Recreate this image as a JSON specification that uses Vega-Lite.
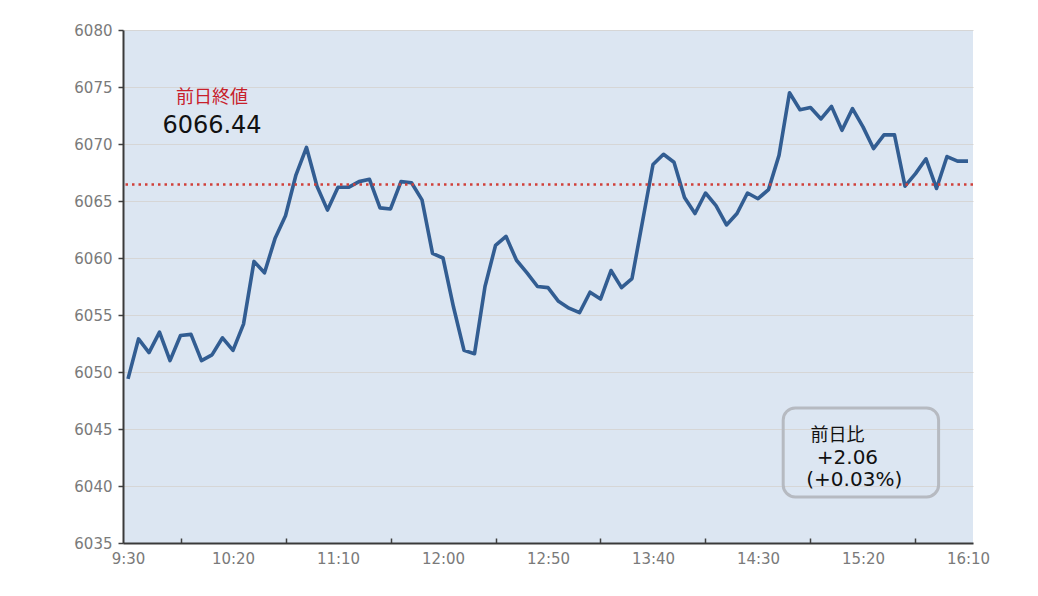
{
  "$schema": "https://vega.github.io/schema/vega-lite/v6.json",
  "width": 850,
  "height": 513,
  "autosize": "none",
  "padding": {"left": 123, "top": 30, "right": 65, "bottom": 53},
  "background": "white",
  "view": {"fill": "#dce6f2", "stroke": null},
  "config": {"font": "DejaVu Sans"},
  "layer": [
    {
      "data": {
        "values": [
          {"t": "09:30", "v": 6049.4}, {"t": "09:35", "v": 6052.9}, {"t": "09:40", "v": 6051.7}, {"t": "09:45", "v": 6053.5},
          {"t": "09:50", "v": 6051.0}, {"t": "09:55", "v": 6053.2}, {"t": "10:00", "v": 6053.3}, {"t": "10:05", "v": 6051.0},
          {"t": "10:10", "v": 6051.5}, {"t": "10:15", "v": 6053.0}, {"t": "10:20", "v": 6051.9}, {"t": "10:25", "v": 6054.2},
          {"t": "10:30", "v": 6059.7}, {"t": "10:35", "v": 6058.7}, {"t": "10:40", "v": 6061.7}, {"t": "10:45", "v": 6063.7},
          {"t": "10:50", "v": 6067.3}, {"t": "10:55", "v": 6069.7}, {"t": "11:00", "v": 6066.3}, {"t": "11:05", "v": 6064.2},
          {"t": "11:10", "v": 6066.2}, {"t": "11:15", "v": 6066.2}, {"t": "11:20", "v": 6066.7}, {"t": "11:25", "v": 6066.9},
          {"t": "11:30", "v": 6064.4}, {"t": "11:35", "v": 6064.3}, {"t": "11:40", "v": 6066.7}, {"t": "11:45", "v": 6066.6},
          {"t": "11:50", "v": 6065.1}, {"t": "11:55", "v": 6060.4}, {"t": "12:00", "v": 6060.0}, {"t": "12:05", "v": 6055.7},
          {"t": "12:10", "v": 6051.9}, {"t": "12:15", "v": 6051.6}, {"t": "12:20", "v": 6057.5}, {"t": "12:25", "v": 6061.1},
          {"t": "12:30", "v": 6061.9}, {"t": "12:35", "v": 6059.8}, {"t": "12:40", "v": 6058.7}, {"t": "12:45", "v": 6057.5},
          {"t": "12:50", "v": 6057.4}, {"t": "12:55", "v": 6056.2}, {"t": "13:00", "v": 6055.6}, {"t": "13:05", "v": 6055.2},
          {"t": "13:10", "v": 6057.0}, {"t": "13:15", "v": 6056.4}, {"t": "13:20", "v": 6058.9}, {"t": "13:25", "v": 6057.4},
          {"t": "13:30", "v": 6058.2}, {"t": "13:35", "v": 6063.2}, {"t": "13:40", "v": 6068.2}, {"t": "13:45", "v": 6069.1},
          {"t": "13:50", "v": 6068.4}, {"t": "13:55", "v": 6065.3}, {"t": "14:00", "v": 6063.9}, {"t": "14:05", "v": 6065.7},
          {"t": "14:10", "v": 6064.6}, {"t": "14:15", "v": 6062.9}, {"t": "14:20", "v": 6063.9}, {"t": "14:25", "v": 6065.7},
          {"t": "14:30", "v": 6065.2}, {"t": "14:35", "v": 6066.0}, {"t": "14:40", "v": 6069.0}, {"t": "14:45", "v": 6074.5},
          {"t": "14:50", "v": 6073.0}, {"t": "14:55", "v": 6073.2}, {"t": "15:00", "v": 6072.2}, {"t": "15:05", "v": 6073.3},
          {"t": "15:10", "v": 6071.2}, {"t": "15:15", "v": 6073.1}, {"t": "15:20", "v": 6071.5}, {"t": "15:25", "v": 6069.6},
          {"t": "15:30", "v": 6070.8}, {"t": "15:35", "v": 6070.8}, {"t": "15:40", "v": 6066.3}, {"t": "15:45", "v": 6067.4},
          {"t": "15:50", "v": 6068.7}, {"t": "15:55", "v": 6066.1}, {"t": "16:00", "v": 6068.9}, {"t": "16:05", "v": 6068.5},
          {"t": "16:10", "v": 6068.5}
        ],
        "format": {"parse": {"t": "date:'%H:%M'"}}
      },
      "mark": {"type": "line", "color": "#325d92", "strokeWidth": 3.6, "strokeJoin": "round"},
      "encoding": {
        "x": {
          "field": "t",
          "type": "temporal",
          "scale": {
            "domain": [
              {"year": 1900, "month": 1, "date": 1, "hours": 9, "minutes": 27, "seconds": 37},
              {"year": 1900, "month": 1, "date": 1, "hours": 16, "minutes": 12, "seconds": 23}
            ]
          },
          "axis": {
            "title": null,
            "grid": false,
            "values": [
              {"year": 1900, "month": 1, "date": 1, "hours": 9, "minutes": 30},
              {"year": 1900, "month": 1, "date": 1, "hours": 9, "minutes": 55},
              {"year": 1900, "month": 1, "date": 1, "hours": 10, "minutes": 20},
              {"year": 1900, "month": 1, "date": 1, "hours": 10, "minutes": 45},
              {"year": 1900, "month": 1, "date": 1, "hours": 11, "minutes": 10},
              {"year": 1900, "month": 1, "date": 1, "hours": 11, "minutes": 35},
              {"year": 1900, "month": 1, "date": 1, "hours": 12, "minutes": 0},
              {"year": 1900, "month": 1, "date": 1, "hours": 12, "minutes": 25},
              {"year": 1900, "month": 1, "date": 1, "hours": 12, "minutes": 50},
              {"year": 1900, "month": 1, "date": 1, "hours": 13, "minutes": 15},
              {"year": 1900, "month": 1, "date": 1, "hours": 13, "minutes": 40},
              {"year": 1900, "month": 1, "date": 1, "hours": 14, "minutes": 5},
              {"year": 1900, "month": 1, "date": 1, "hours": 14, "minutes": 30},
              {"year": 1900, "month": 1, "date": 1, "hours": 14, "minutes": 55},
              {"year": 1900, "month": 1, "date": 1, "hours": 15, "minutes": 20},
              {"year": 1900, "month": 1, "date": 1, "hours": 15, "minutes": 45},
              {"year": 1900, "month": 1, "date": 1, "hours": 16, "minutes": 10}
            ],
            "labelExpr": "((hours(datum.value)*60+minutes(datum.value)-570)%50==0) ? timeFormat(datum.value, '%-H:%M') : ''",
            "tickOpacity": {"condition": {"test": "(hours(datum.value)*60+minutes(datum.value)-570)%50==25", "value": 1}, "value": 0},
            "tickSize": -5,
            "tickColor": "#404040",
            "tickWidth": 1.5,
            "domainColor": "#3a3a3a",
            "domainWidth": 2,
            "labelPadding": 13,
            "labelFontSize": 15,
            "labelColor": "#7a7a7a",
            "labelFlush": false,
            "labelOverlap": false
          }
        },
        "y": {
          "field": "v",
          "type": "quantitative",
          "scale": {"domain": [6035, 6080], "nice": false, "zero": false},
          "axis": {
            "title": null,
            "format": "d",
            "values": [6035, 6040, 6045, 6050, 6055, 6060, 6065, 6070, 6075, 6080],
            "grid": true,
            "gridColor": "#d6d6d6",
            "gridWidth": 1,
            "tickSize": 5,
            "tickColor": "#404040",
            "tickWidth": 1.5,
            "domainColor": "#3a3a3a",
            "domainWidth": 2,
            "labelPadding": 6,
            "labelFontSize": 15,
            "labelColor": "#7a7a7a"
          }
        }
      }
    },
    {
      "data": {"values": [{"v": 6066.44}]},
      "mark": {"type": "rule", "color": "#d0403a", "strokeWidth": 2.5, "strokeDash": [2.5, 4]},
      "encoding": {"y": {"field": "v", "type": "quantitative"}}
    },
    {
      "data": {
        "values": [{"t1": "14:42", "t2": "15:56", "v1": 6046.84, "v2": 6039.04}],
        "format": {"parse": {"t1": "date:'%H:%M'", "t2": "date:'%H:%M'"}}
      },
      "mark": {"type": "rect", "fill": null, "fillOpacity": 0, "stroke": "#b6bac1", "strokeWidth": 3, "cornerRadius": 12},
      "encoding": {
        "x": {"field": "t1", "type": "temporal"},
        "x2": {"field": "t2"},
        "y": {"field": "v1", "type": "quantitative"},
        "y2": {"field": "v2"}
      }
    },
    {
      "data": {"values": [{"t": "10:10", "v": 6074.04, "label": "前日終値"}], "format": {"parse": {"t": "date:'%H:%M'"}}},
      "mark": {"type": "text", "font": "Noto Sans CJK JP", "fontSize": 18, "color": "#c8202a", "align": "center", "baseline": "middle"},
      "encoding": {
        "x": {"field": "t", "type": "temporal"},
        "y": {"field": "v", "type": "quantitative"},
        "text": {"field": "label"}
      }
    },
    {
      "data": {"values": [{"t": "10:10", "v": 6071.54, "label": "6066.44"}], "format": {"parse": {"t": "date:'%H:%M'"}}},
      "mark": {"type": "text", "font": "DejaVu Sans", "fontSize": 24, "color": "#111111", "align": "center", "baseline": "middle"},
      "encoding": {
        "x": {"field": "t", "type": "temporal"},
        "y": {"field": "v", "type": "quantitative"},
        "text": {"field": "label"}
      }
    },
    {
      "data": {"values": [{"t": "14:55", "v": 6044.39, "label": "前日比"}], "format": {"parse": {"t": "date:'%H:%M'"}}},
      "mark": {"type": "text", "font": "Noto Sans CJK JP", "fontSize": 18, "color": "#111111", "align": "left", "baseline": "middle"},
      "encoding": {
        "x": {"field": "t", "type": "temporal"},
        "y": {"field": "v", "type": "quantitative"},
        "text": {"field": "label"}
      }
    },
    {
      "data": {
        "values": [
          {"t": "14:58", "v": 6042.46, "label": "+2.06"},
          {"t": "14:53", "v": 6040.53, "label": "(+0.03%)"}
        ],
        "format": {"parse": {"t": "date:'%H:%M'"}}
      },
      "mark": {"type": "text", "font": "DejaVu Sans", "fontSize": 20, "color": "#111111", "align": "left", "baseline": "middle"},
      "encoding": {
        "x": {"field": "t", "type": "temporal"},
        "y": {"field": "v", "type": "quantitative"},
        "text": {"field": "label"}
      }
    }
  ]
}
